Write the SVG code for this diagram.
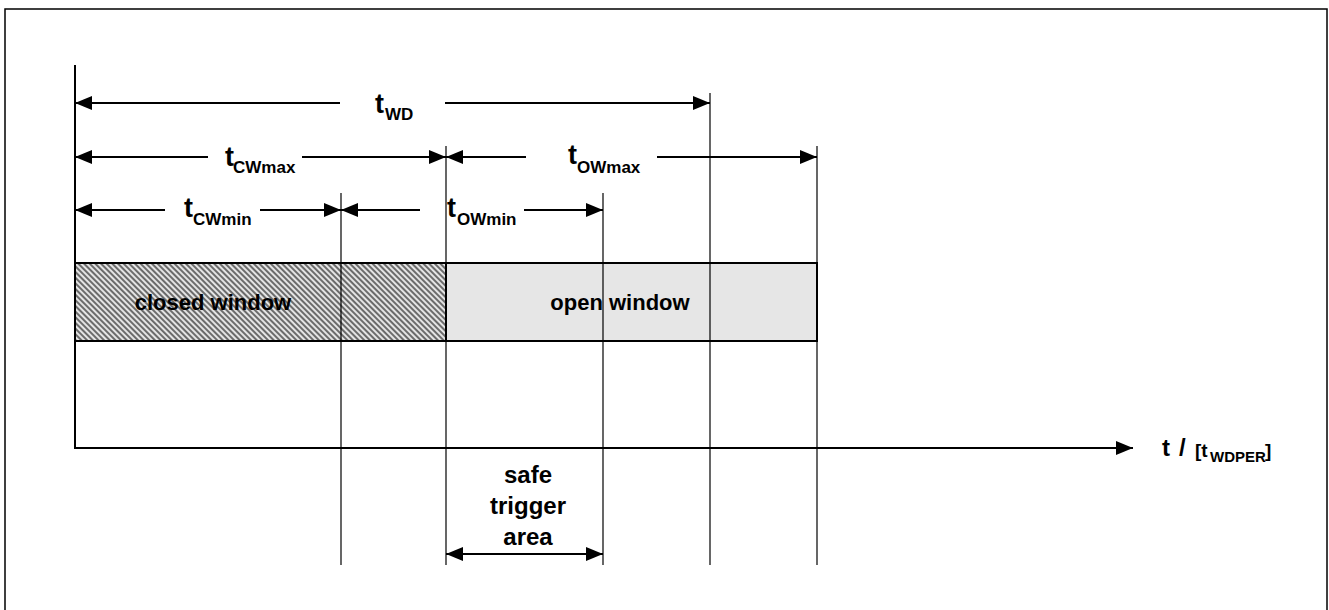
<svg xmlns="http://www.w3.org/2000/svg" width="1329" height="610" viewBox="0 0 1329 610">
<style>
.t{font-family:"Liberation Sans",Arial,sans-serif;font-weight:bold;fill:#000}
.m{font-size:27px}
.s{font-size:17px}
.d{stroke:#000;stroke-width:2;fill:none}
.v{stroke:#000;stroke-width:1.2;fill:none}
</style>
<defs>
<marker id="ah" viewBox="0 0 17 14" refX="17" refY="7" markerWidth="17" markerHeight="14" markerUnits="userSpaceOnUse" orient="auto-start-reverse">
<path d="M0,0 L17,7 L0,14 Z" fill="#000"/>
</marker>
<pattern id="hatch" width="4" height="4" patternUnits="userSpaceOnUse" patternTransform="rotate(-45)">
<rect width="4" height="4" fill="#e4e4e4"/>
<line x1="1" y1="0" x2="1" y2="4" stroke="#2a2a2a" stroke-width="1.3"/>
</pattern>
</defs>
<rect x="5" y="9" width="1322" height="610" fill="#fff" stroke="#000" stroke-width="1.5"/>

<g id="windows">
<rect id="closed" x="75" y="263" width="371" height="78" fill="url(#hatch)" stroke="#000" stroke-width="2"/>
<rect id="open" x="446" y="263" width="371" height="78" fill="#e6e6e6" stroke="#000" stroke-width="2"/>
<text class="t" x="213" y="310" font-size="22" text-anchor="middle">closed window</text>
<text class="t" x="620" y="310" font-size="22" text-anchor="middle">open window</text>
</g>

<g id="connectors">
<line class="v" x1="341" y1="193" x2="341" y2="565"/>
<line class="v" x1="446" y1="146" x2="446" y2="565"/>
<line class="v" x1="603" y1="193" x2="603" y2="565"/>
<line class="v" x1="710" y1="93" x2="710" y2="565"/>
<line class="v" x1="817" y1="146" x2="817" y2="565"/>
<line x1="75" y1="65" x2="75" y2="449" stroke="#000" stroke-width="2"/>
<line x1="74" y1="448" x2="1133" y2="448" stroke="#000" stroke-width="2" marker-end="url(#ah)"/>
<line class="d" x1="340" y1="103" x2="75" y2="103" marker-end="url(#ah)"/>
<line class="d" x1="445" y1="103" x2="710" y2="103" marker-end="url(#ah)"/>
<line class="d" x1="208" y1="157" x2="75" y2="157" marker-end="url(#ah)"/>
<line class="d" x1="302" y1="157" x2="446" y2="157" marker-end="url(#ah)"/>
<line class="d" x1="526" y1="157" x2="446" y2="157" marker-end="url(#ah)"/>
<line class="d" x1="657" y1="157" x2="817" y2="157" marker-end="url(#ah)"/>
<line class="d" x1="165" y1="210" x2="75" y2="210" marker-end="url(#ah)"/>
<line class="d" x1="260" y1="210" x2="341" y2="210" marker-end="url(#ah)"/>
<line class="d" x1="420" y1="210" x2="341" y2="210" marker-end="url(#ah)"/>
<line class="d" x1="524" y1="210" x2="603" y2="210" marker-end="url(#ah)"/>
<line class="d" x1="446" y1="554" x2="603" y2="554" marker-start="url(#ah)" marker-end="url(#ah)"/>
</g>

<g id="labels">
<text class="t m" x="375" y="113">t</text><text class="t s" x="385" y="120">WD</text>
<text class="t m" x="225" y="166">t</text><text class="t s" x="233" y="173">CWmax</text>
<text class="t m" x="568" y="164">t</text><text class="t s" x="577" y="173">OWmax</text>
<text class="t m" x="184" y="217">t</text><text class="t s" x="193" y="225">CWmin</text>
<text class="t m" x="447" y="217">t</text><text class="t s" x="457" y="225">OWmin</text>
<g id="safe">
<text class="t" font-size="24" text-anchor="middle" x="528" y="483">safe</text>
<text class="t" font-size="24" text-anchor="middle" x="528" y="514">trigger</text>
<text class="t" font-size="24" text-anchor="middle" x="528" y="545">area</text>
</g>
<g id="axis-label">
<text class="t" font-size="24" x="1162" y="456">t</text>
<text class="t" font-size="24" x="1179" y="456">/</text>
<text class="t" font-size="19" x="1195" y="457">[t</text>
<text class="t" font-size="15" x="1210" y="462">WDPER</text>
<text class="t" font-size="19" x="1265" y="457">]</text>
</g>
</g>
</svg>
